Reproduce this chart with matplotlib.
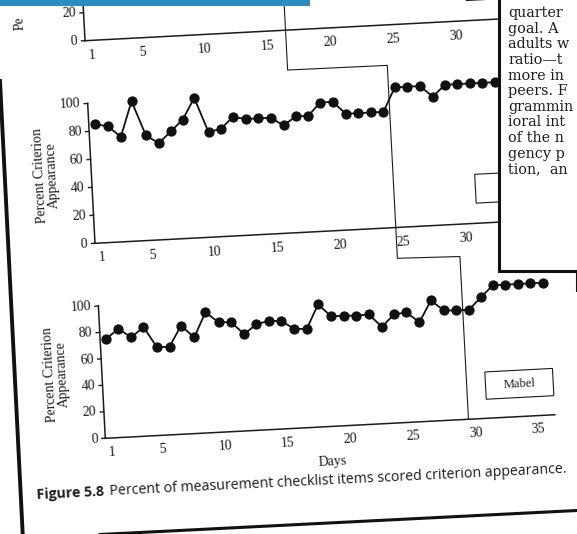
import numpy as np
import matplotlib
matplotlib.use("Agg")
import matplotlib.pyplot as plt
from matplotlib.transforms import Affine2D
from matplotlib.patches import Rectangle, Polygon

# ---------------- data ----------------
mid_days = list(range(1, 34))
mid_pct = [85, 83, 75, 100, 75, 69, 77, 85, 100, 75, 77, 85, 83, 83, 83, 77,
           83, 83, 92, 92, 83, 83, 83, 83, 100, 100, 100, 92, 100, 100, 100, 100, 100]
bot_days = list(range(1, 37))
bot_pct = [75, 82, 75, 82.5, 66.5, 66.5, 82, 72.5, 91, 83, 82.5, 73, 80, 82, 81.5, 75,
           74.5, 92.5, 83, 83, 82.5, 83, 73, 82, 83, 75, 91, 83, 82.5, 82.5, 91.5,
           100, 100, 100, 100, 100]
x_tick_labels = [1, 5, 10, 15, 20, 25, 30, 35]
y_ticks = [0, 20, 40, 60, 80, 100]
top_y_ticks = [0, 20]
phase_top, phase_mid, phase_bot = 16.5, 24.5, 29.5
label_box_days = (31.0, 36.4)
label_box_pct = (14.4, 35.0)
participant = "Mabel"
y_label = "Percent Criterion\nAppearance"
top_y_label_visible = "Pe"
x_label = "Days"
caption_bold = "Figure 5.8"
caption_text = "Percent of measurement checklist items scored criterion appearance."
page_lines = ["quarter", "goal. A", "adults w", "ratio\u2014t", "more in", "peers. F",
              "grammin", "ioral int", "of the n", "gency p", "tion,  an"]

W, H = 577, 534
fig = plt.figure(figsize=(W / 100, H / 100), dpi=100)
ax = fig.add_axes([0, 0, 1, 1])
ax.set_xlim(0, W)
ax.set_ylim(H, 0)
ax.axis("off")

SERIF = ["Liberation Serif", "DejaVu Serif"]
INK = "#1c1c1c"


def panel_tr(origin, day_len, pct_len, angle_deg):
    t = np.deg2rad(angle_deg)
    ex = np.array([day_len * np.cos(t), -day_len * np.sin(t)])
    ey = np.array([-pct_len * np.sin(t), -pct_len * np.cos(t)])
    ox = origin[0] - 0.5 * ex[0]
    oy = origin[1] - 0.5 * ex[1]
    return Affine2D(np.array([[ex[0], ey[0], ox], [ex[1], ey[1], oy], [0, 0, 1]]))


top = panel_tr((85, 40.7), 12.55, 1.40, 3.0)
mid = panel_tr((95, 243.3), 12.55, 1.40, 3.0)
bot = panel_tr((105.3, 438.3), 12.54, 1.325, 3.0)


def draw_panel(tr, yticks, x_end, y_top, days=None, pct=None, box_label=None):
    T = tr + ax.transData
    ax.plot([0.5, x_end], [0, 0], color=INK, lw=1.1, transform=T, zorder=2)
    ax.plot([0.5, 0.5], [0, y_top], color=INK, lw=1.1, transform=T, zorder=2)
    tl = 3.5 / 12.55
    for v in yticks:
        ax.plot([0.5 - tl, 0.5], [v, v], color=INK, lw=1.0, transform=T, zorder=2)
        ax.text(0.5 - 7.5 / 12.55, v, str(v), transform=T, ha="right", va="center",
                rotation=3, rotation_mode="anchor", fontsize=10, family=SERIF, color=INK)
    for d in x_tick_labels:
        ax.text(d, -10.5, str(d), transform=T, ha="center", va="center",
                rotation=3, rotation_mode="anchor", fontsize=10, family=SERIF, color=INK)
    b = label_box_days
    p = label_box_pct
    ax.add_patch(Polygon([(b[0], p[0]), (b[1], p[0]), (b[1], p[1]), (b[0], p[1])],
                         closed=True, fill=False, ec=INK, lw=0.8, transform=T, zorder=2))
    if box_label:
        ax.text((b[0] + b[1]) / 2, (p[0] + p[1]) / 2, box_label, transform=T,
                ha="center", va="center", rotation=3, rotation_mode="anchor",
                fontsize=9, family=SERIF, color=INK)
    if days is not None:
        ax.plot(days, pct, "-o", color="#111111", lw=1.3, ms=6.4, transform=T, zorder=3)
    return T


Ttop = draw_panel(top, top_y_ticks, 36.5, 40, None, None)
Tmid = draw_panel(mid, y_ticks, 36.5, 100, mid_days, mid_pct)
Tbot = draw_panel(bot, y_ticks, 36.4, 100, bot_days, bot_pct, participant)

# y labels
for T in (Tmid, Tbot):
    ax.text(-3.1, 50, y_label, transform=T, ha="center", va="center", rotation=93,
            rotation_mode="anchor", fontsize=10, family=SERIF, color=INK, linespacing=0.95,
            multialignment="center")
# only the first letters of the top panel's label are on the page
ax.text(26, 23, top_y_label_visible, ha="center", va="bottom", rotation=93,
        rotation_mode="anchor", fontsize=10, family=SERIF, color=INK)
ax.text(18.5, -27, x_label, transform=Tbot, ha="center", va="center", rotation=3,
        rotation_mode="anchor", fontsize=10, family=SERIF, color=INK)

# phase-change staircase
pts = [top.transform((phase_top, 40)), top.transform((phase_top, -28.5)),
       mid.transform((phase_mid, 116)), mid.transform((phase_mid, -22)),
       bot.transform((phase_bot, 123)), bot.transform((phase_bot, 0))]
pts = np.array(pts)
ax.plot(pts[:, 0], pts[:, 1], color=INK, lw=0.8, zorder=2)

# right-hand text box of the page
ax.add_patch(Rectangle((499, -10), 120, 281, fc="white", ec="#111111", lw=2.2, zorder=5))
ax.plot([576.5, 576.5], [271, 291], color="#111111", lw=1.5, zorder=5)
for i, line in enumerate(page_lines):
    ax.text(508.3, 13.3 + 15.6 * i, line, ha="left", va="center", fontsize=10.4,
            family=["DejaVu Serif"], color=INK, zorder=6)

# page edges and header bar
ax.add_patch(Rectangle((0, 0), 310, 6, fc="#2a8dc0", ec="none", zorder=7))
ax.plot([0, 22.7], [81, 534], color="#111111", lw=2.8, zorder=4)
ax.plot([100, 577], [534.5, 510.5], color="#111111", lw=2.2, zorder=4)

# caption
ang = 2.8
t = np.deg2rad(ang)
start = np.array([37.0, 495.5])
CAPF = ["Open Sans", "DejaVu Sans"]
cap1 = ax.text(start[0], start[1], caption_bold, ha="left", va="center", rotation=ang,
               rotation_mode="anchor", fontsize=10.2, family=CAPF,
               fontweight="bold", color=INK)
fig.canvas.draw()
w1 = cap1.get_window_extent().width / np.cos(t)
gap = 5
pos2 = start + (w1 + gap) * np.array([np.cos(t), -np.sin(t)])
ax.text(pos2[0], pos2[1], caption_text, ha="left", va="center", rotation=ang,
        rotation_mode="anchor", fontsize=10.2, family=CAPF, color=INK)

fig.savefig("out.png", dpi=100)
